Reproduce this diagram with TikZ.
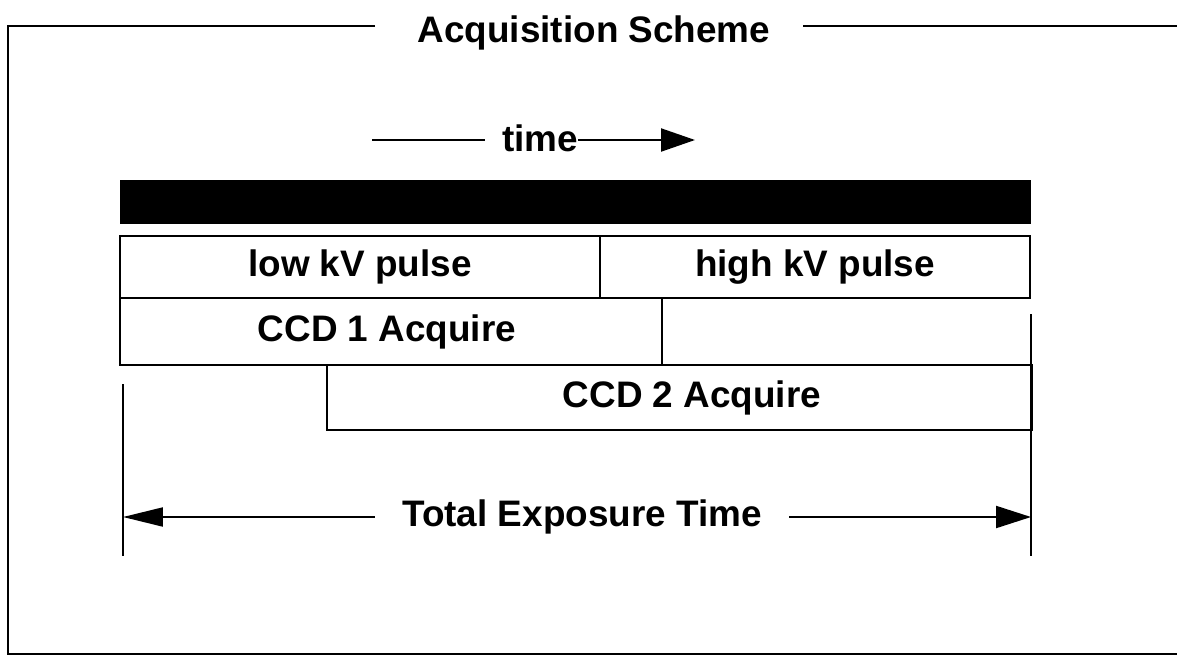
\documentclass[tikz,border=0pt]{standalone}
\usepackage{fontspec}
\setmainfont{Liberation Sans}
\usetikzlibrary{arrows.meta,calc}
\tikzset{
  lbl/.style={font=\fontsize{21}{25}\selectfont\bfseries, inner sep=0pt},
  tbox/.style={draw, line width=1.1pt, inner sep=0pt, font=\fontsize{21}{25}\selectfont\bfseries},
  blackbar/.style={fill=black, draw=black, inner sep=0pt},
  frameline/.style={line width=1.5pt},
  guide/.style={line width=1.1pt},
  arr/.style={line width=1.2pt}
}
\begin{document}
\begin{tikzpicture}[x=0.02cm,y=-0.02cm]
\useasboundingbox (0,0) rectangle (1177,663);
% frame
\node[lbl] (title) at (594,33) {Acquisition Scheme};
\coordinate (fl) at (375,26);
\coordinate (fr) at (803,26);
\draw[frameline] (fl) -- (8,26) -- (8,654) -- (1177,654);
\draw[frameline] (fr) -- (1177,26);
% time arrow
\node[lbl] (time) at (540,138) {time};
\coordinate (tl) at (372,140);
\coordinate (tr) at (695,140);
\draw[arr] (tl) -- (tl -| 485,0);
\draw[arr, -{Triangle[length=0.68cm,width=0.46cm]}] (time.east |- tl) -- (tr);
% bar
\node[blackbar, minimum width=18.2cm, minimum height=0.86cm] (bar) at (575,201.5) {};
% boxes
\node[tbox, minimum width=9.6cm, minimum height=1.24cm] (low) at (360,267) {low kV pulse};
\node[tbox, minimum width=8.6cm, minimum height=1.24cm] (high) at (815,267) {high kV pulse};
\node[tbox, minimum width=10.84cm, minimum height=1.34cm,
      label={[lbl,xshift=-0.08cm]center:CCD 1 Acquire}] (ccd1) at (391,331.5) {};
\node[tbox, minimum width=14.1cm, minimum height=1.3cm,
      label={[lbl,xshift=0.25cm]center:CCD 2 Acquire}] (ccd2) at (679.5,397.5) {};
% guides
\coordinate (vl1) at (123,384);
\coordinate (vl2) at (123,556);
\coordinate (vr1) at (1031,314);
\coordinate (vr2) at (1031,556);
\draw[guide] (vl1) -- (vl2);
\draw[guide] (vr1) -- (vr2);
% total exposure
\node[lbl] (tot) at (582,517) {Total Exposure Time};
\draw[arr, -{Triangle[length=0.8cm,width=0.38cm]}] ([xshift=-0.54cm]tot.west) -- (vl1 |- tot);
\draw[arr, -{Triangle[length=0.7cm,width=0.44cm]}] ([xshift=0.54cm]tot.east) -- (vr1 |- tot);
\end{tikzpicture}
\end{document}
